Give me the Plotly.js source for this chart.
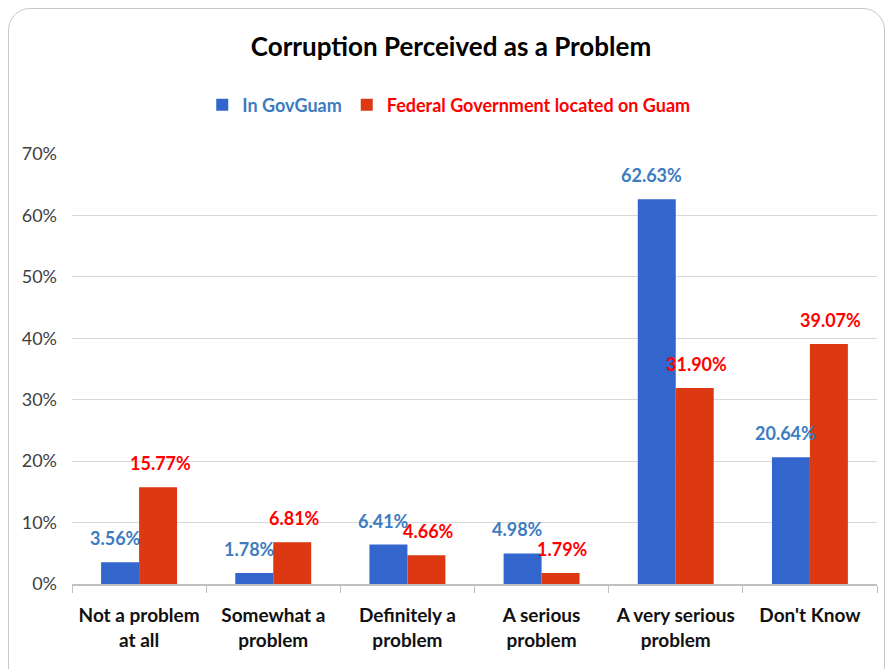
<!DOCTYPE html>
<html>
<head>
<meta charset="utf-8">
<script src="https://cdn.plot.ly/plotly-3.0.1.min.js"></script>
<style>
  html, body { margin: 0; padding: 0; background: #ffffff; overflow: hidden; }
  #frame { position: absolute; left: 8px; top: 8px; width: 877px; height: 720px;
           border: 1.5px solid #C8C8C8; border-radius: 22px; box-sizing: border-box; }
  #chart { position: absolute; left: 0; top: 0; width: 890px; height: 669px; }
</style>
</head>
<body>
<div id="frame"></div>
<div id="chart"></div>
<script>
const categories = ["Not a problem<br>at all", "Somewhat a<br>problem", "Definitely a<br>problem", "A serious<br>problem", "A very serious<br>problem", "Don't Know"];
const govGuam = [0.0356, 0.0178, 0.0641, 0.0498, 0.6263, 0.2064];
const federal = [0.1577, 0.0681, 0.0466, 0.0179, 0.3190, 0.3907];
const seriesNames = ["In GovGuam", "Federal Government located on Guam"];
const yTicks = [0, 0.1, 0.2, 0.3, 0.4, 0.5, 0.6, 0.7];

const FONT = "Lato, 'Open Sans', sans-serif";
const BLUE = "#3366CC", RED = "#DC3912";
const BLUE_TXT = "#3D7CC0", RED_TXT = "#FF0000";

const traces = [
  { type: "bar", name: '<span style="color:' + BLUE_TXT + '">' + seriesNames[0] + '</span>',
    x: categories, y: govGuam, marker: { color: BLUE }, hoverinfo: "y" },
  { type: "bar", name: '<span style="color:' + RED_TXT + '">' + seriesNames[1] + '</span>',
    x: categories, y: federal, marker: { color: RED }, hoverinfo: "y" }
];

const annotations = [];
function addLabels(vals, color, shift) {
  vals.forEach((v, i) => {
    annotations.push({ x: categories[i], y: v, xref: "x", yref: "y",
      text: (v * 100).toFixed(2) + "%", showarrow: false,
      yanchor: "bottom", yshift: 11, xshift: shift,
      font: { family: FONT, size: 18, color: color, weight: "bold" } });
  });
}
addLabels(govGuam, BLUE_TXT, -24);
addLabels(federal, RED_TXT, 21);

const layout = {
  width: 890, height: 669,
  paper_bgcolor: "rgba(0,0,0,0)", plot_bgcolor: "rgba(0,0,0,0)",
  margin: { l: 72, r: 13, t: 154, b: 85 },
  font: { family: FONT, color: "#404040" },
  title: { text: "<b>Corruption Perceived as a Problem</b>", x: 451 / 890, xanchor: "center",
           y: 1 - 47 / 669, yanchor: "middle", font: { family: FONT, size: 26, color: "#000000" } },
  barmode: "group", bargap: 0.434, bargroupgap: 0,
  showlegend: true,
  legend: { orientation: "h", x: 0.468, xanchor: "center", y: 1.114, yanchor: "middle",
            font: { family: FONT, size: 18, weight: "bold" }, itemwidth: 30 },
  xaxis: { type: "category", showgrid: false, showline: true, linecolor: "#BFBFBF", linewidth: 1.5,
           ticks: "outside", tickson: "boundaries", ticklen: 7, tickcolor: "#BFBFBF",
           ticklabelstandoff: 14,
           tickfont: { family: FONT, size: 19, color: "#111111", weight: "bold" } },
  yaxis: { range: [0, 0.7], tickvals: yTicks, tickformat: ".0%", showline: false,
           gridcolor: "#D9D9D9", gridwidth: 1.2, zeroline: false,
           ticklabelstandoff: 14,
           tickfont: { family: FONT, size: 18, color: "#404040" } },
  annotations: annotations
};

Plotly.newPlot("chart", traces, layout, { displayModeBar: false, staticPlot: true });
</script>
</body>
</html>
